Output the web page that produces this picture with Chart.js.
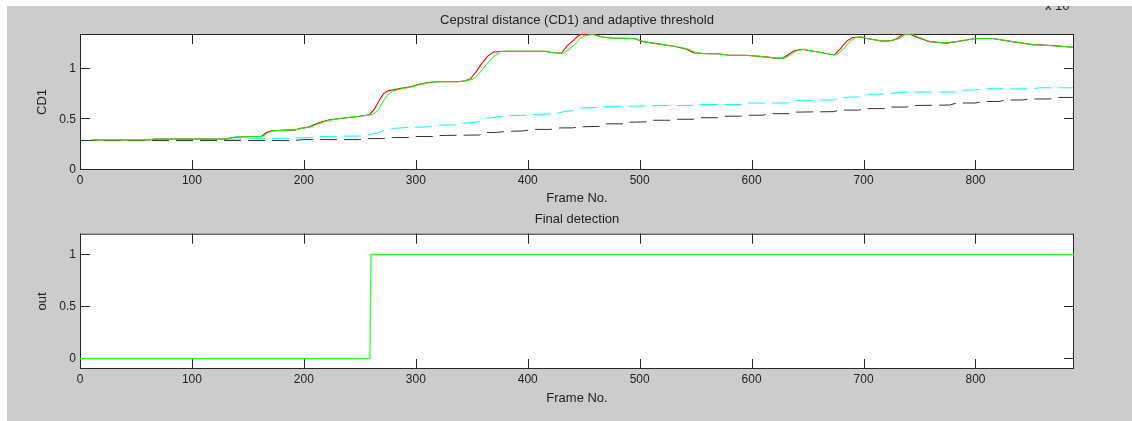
<!DOCTYPE html>
<html><head><meta charset="utf-8">
<script src="https://cdn.jsdelivr.net/npm/chart.js@4"></script>
<style>
html,body{margin:0;padding:0;background:#fff;width:1132px;height:421px;overflow:hidden;}
#fig{position:absolute;left:7px;top:6px;width:1125px;height:415px;background:#cccccc;overflow:hidden;}
#exp{position:absolute;left:1038px;top:-6px;font:13px "Liberation Sans",Arial,sans-serif;line-height:12px;color:#222;white-space:nowrap;}
canvas{position:absolute;}
#c1{left:-7px;top:0px;}
#c2{left:-7px;top:200px;}
</style></head>
<body>
<div id="fig">
<span id="exp">x 10</span>
<canvas id="c1" width="1132" height="200"></canvas>
<canvas id="c2" width="1132" height="215"></canvas>
</div>
<script>
// ---- data ----
const topTitle = "Cepstral distance (CD1) and adaptive threshold";
const bottomTitle = "Final detection";
const xLabel = "Frame No.";
const topYLabel = "CD1";
const bottomYLabel = "out";
const xTicks = [0,100,200,300,400,500,600,700,800];
const topYTicks = [0,0.5,1];
const bottomYTicks = [0,0.5,1];

const redFrames = [10,62,66,130,134,140,162,166,170,180,192,197,205,210,216,223,238,250,256,259,263,267,271,275,282,295,305,312,320,338,344,349,354,359,364,369,378,400,415,423,430,435,441,446,452,460,466,475,495,503,518,533,542,548,560,570,580,595,607,620,627,632,638,645,652,661,670,674,679,685,690,697,703,717,725,730,735,741,747,759,774,786,800,815,836,851,869,887];
const redValues = [0.295,0.295,0.305,0.305,0.315,0.325,0.33,0.365,0.385,0.39,0.395,0.41,0.425,0.45,0.475,0.495,0.515,0.53,0.54,0.55,0.6,0.68,0.75,0.78,0.795,0.82,0.85,0.865,0.87,0.87,0.88,0.9,0.97,1.05,1.12,1.16,1.17,1.17,1.17,1.155,1.15,1.22,1.28,1.33,1.34,1.335,1.31,1.3,1.295,1.265,1.24,1.215,1.19,1.155,1.145,1.145,1.13,1.13,1.12,1.105,1.1,1.13,1.175,1.19,1.175,1.16,1.14,1.135,1.19,1.27,1.305,1.31,1.295,1.27,1.275,1.295,1.335,1.34,1.31,1.265,1.25,1.27,1.295,1.295,1.26,1.235,1.225,1.21];

const greenFrames = [10,62,66,130,134,140,163,168,172,180,192,198,206,212,218,225,238,250,258,262,267,271,275,279,285,295,305,313,320,338,346,352,358,363,369,375,380,400,415,423,432,437,442,447,452,458,466,475,495,503,518,533,544,550,560,570,580,595,607,620,629,634,640,647,652,661,670,676,682,688,693,699,703,717,725,732,737,743,749,759,774,786,800,815,836,851,869,887];
const greenValues = [0.295,0.295,0.305,0.305,0.315,0.325,0.33,0.365,0.385,0.39,0.395,0.41,0.425,0.45,0.475,0.495,0.515,0.53,0.54,0.55,0.6,0.68,0.74,0.775,0.795,0.815,0.845,0.862,0.87,0.87,0.88,0.9,0.97,1.04,1.11,1.165,1.17,1.17,1.17,1.155,1.15,1.19,1.235,1.3,1.325,1.335,1.31,1.3,1.295,1.265,1.24,1.215,1.19,1.155,1.145,1.145,1.13,1.13,1.12,1.105,1.1,1.13,1.175,1.19,1.175,1.16,1.14,1.135,1.19,1.27,1.305,1.31,1.295,1.27,1.275,1.295,1.335,1.34,1.31,1.265,1.25,1.27,1.295,1.295,1.26,1.235,1.225,1.21];

const cyanFrames = [0,60,65,130,140,170,190,205,215,250,256,265,272,280,295,312,318,335,342,355,363,372,381,400,411,425,432,441,446,462,473,500,509,545,553,590,595,632,640,673,679,697,702,722,732,783,789,800,806,851,857,887];
const cyanValues = [0.29,0.29,0.295,0.3,0.305,0.31,0.315,0.32,0.33,0.335,0.345,0.36,0.39,0.41,0.42,0.425,0.44,0.445,0.46,0.47,0.51,0.52,0.535,0.54,0.55,0.555,0.575,0.585,0.61,0.615,0.625,0.63,0.635,0.635,0.645,0.645,0.66,0.66,0.685,0.69,0.715,0.72,0.745,0.75,0.765,0.77,0.785,0.79,0.8,0.8,0.81,0.81];

const blackFrames = [0,190,200,250,256,271,280,292,301,318,321,357,363,372,381,396,405,420,429,440,446,464,467,485,488,509,512,527,530,548,553,569,574,589,595,610,616,634,637,673,679,696,699,720,723,738,744,777,783,800,806,821,827,842,848,866,872,887];
const blackValues = [0.29,0.29,0.3,0.3,0.31,0.31,0.32,0.32,0.33,0.33,0.34,0.345,0.37,0.37,0.38,0.385,0.4,0.4,0.415,0.415,0.425,0.43,0.455,0.455,0.47,0.475,0.49,0.49,0.5,0.5,0.515,0.515,0.53,0.53,0.54,0.54,0.555,0.555,0.57,0.575,0.59,0.59,0.605,0.605,0.62,0.62,0.635,0.64,0.66,0.66,0.675,0.675,0.69,0.69,0.7,0.7,0.715,0.715];

const outFrames = [0,259,260,888];
const outValues = [0,0,1,1];

// ---- rendering ----
const FONT = '"Liberation Sans", Arial, sans-serif';
const TXT = '#222222';
Chart.defaults.font.family = FONT;
Chart.defaults.font.size = 12;
Chart.defaults.color = TXT;

function pts(fr, vals){ return fr.map((f,i)=>({x:f, y:vals[i]})); }

const boxTicks = {
  id:'boxTicks',
  beforeDraw(chart){
    const {ctx, chartArea:a} = chart;
    ctx.save(); ctx.fillStyle='#ffffff';
    ctx.fillRect(a.left,a.top,a.right-a.left,a.bottom-a.top);
    ctx.restore();
  },
  beforeDatasetsDraw(chart){
    const {ctx, chartArea:a, scales:{x,y}} = chart;
    const L = 10;
    ctx.save();
    ctx.strokeStyle='#262626'; ctx.lineWidth=1;
    ctx.beginPath();
    x.ticks.forEach(t=>{
      const px = Math.round(x.getPixelForValue(t.value))+0.5;
      ctx.moveTo(px,a.bottom); ctx.lineTo(px,a.bottom-L);
      ctx.moveTo(px,a.top); ctx.lineTo(px,a.top+L);
    });
    y.ticks.forEach(t=>{
      const py = Math.round(y.getPixelForValue(t.value))-0.5;
      ctx.moveTo(a.left,py); ctx.lineTo(a.left+L,py);
      ctx.moveTo(a.right,py); ctx.lineTo(a.right-L,py);
    });
    ctx.stroke();
    ctx.strokeRect(a.left+0.5, a.top+0.5, a.right-a.left-1, a.bottom-a.top-1);
    ctx.restore();
  }
};

function makeChart(id, cfg){
  const ticksFrom = arr => (s)=>{ s.ticks = arr.map(v=>({value:v})); };
  return new Chart(document.getElementById(id), {
    type:'line',
    data:{ datasets: cfg.datasets },
    options:{
      responsive:false, animation:false, devicePixelRatio:1,
      layout:{ padding:{left:0, top:0, right:58, bottom:0} },
      elements:{ point:{radius:0}, line:{tension:0} },
      plugins:{
        legend:{display:false}, tooltip:{enabled:false},
        title:{ display:true, fullSize:false, text:cfg.title, color:TXT, font:{size:13, weight:'normal'},
                padding:{top:cfg.tPadTop, bottom:cfg.tPadBottom} }
      },
      scales:{
        x:{ type:'linear', min:0, max:888,
            afterBuildTicks: ticksFrom(xTicks),
            afterFit(s){ s.height = cfg.xH; },
            grid:{display:false, drawTicks:false},
            border:{display:false},
            ticks:{padding:3, color:TXT, font:{size:12}, maxRotation:0, callback:v=>String(v)},
            title:{display:true, text:xLabel, color:TXT, font:{size:13}, padding:{top:0, bottom:cfg.xTitlePad}} },
        y:{ type:'linear', min:cfg.yMin, max:cfg.yMax,
            afterBuildTicks: ticksFrom(cfg.yTicks),
            afterFit(s){ s.width = 80; },
            grid:{display:false, drawTicks:false},
            border:{display:false},
            ticks:{padding:4, color:TXT, font:{size:12}, callback:v=>String(v)},
            title:{display:true, text:cfg.yLabel, color:TXT, font:{size:13}, padding:{top:34.2, bottom:0}} }
      }
    },
    plugins:[boxTicks]
  });
}

// Chart.js paints dataset 0 last (on top): green over red over thresholds
makeChart('c1', {
  title: topTitle, tPadTop:6.2, tPadBottom:6.2, xH:36, xTitlePad:-0.3,
  yMin:0, yMax:1.34, yTicks: topYTicks, yLabel: topYLabel,
  datasets:[
    {data:pts(greenFrames,greenValues), borderColor:'#00ff00', borderWidth:1, fill:false},
    {data:pts(redFrames,redValues), borderColor:'#ff0000', borderWidth:1.1, fill:false},
    {data:pts(blackFrames,blackValues), borderColor:'#333333', borderWidth:1, borderDash:[17,7], fill:false},
    {data:pts(cyanFrames,cyanValues), borderColor:'#00ffff', borderWidth:1, borderDash:[17,7], fill:false}
  ]
});

makeChart('c2', {
  title: bottomTitle, tPadTop:5.2, tPadBottom:6.9, xH:52, xTitlePad:14.7,
  yMin:-0.1, yMax:1.2, yTicks: bottomYTicks, yLabel: bottomYLabel,
  datasets:[
    {data:pts(outFrames,outValues), borderColor:'#33ff33', borderWidth:1.3, fill:false}
  ]
});
</script>
</body></html>
